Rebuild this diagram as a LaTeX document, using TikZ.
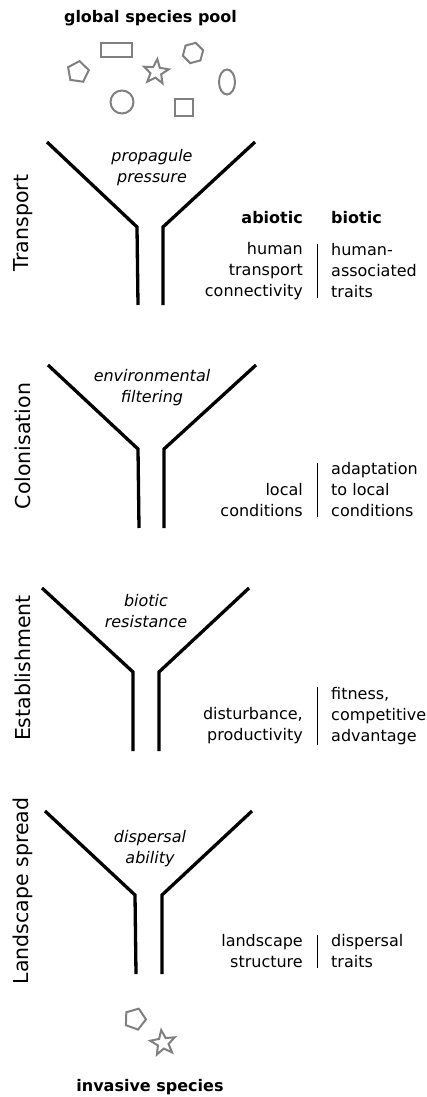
\documentclass[tikz,border=0pt]{standalone}
\usepackage{fontspec}
\setmainfont{DejaVu Sans}
\usepackage{tikz}
\usetikzlibrary{shapes.geometric}
\definecolor{speciesgray}{RGB}{128,128,128}

\begin{document}
\begin{tikzpicture}[x=1pt,y=-1pt,
    funnel/.style={line width=3.3pt,line join=miter},
    divider/.style={line width=1pt},
    species/.style={draw=speciesgray,line width=2pt,inner sep=0pt},
    title node/.style={font=\fontsize{16}{21}\selectfont\bfseries},
    stage node/.style={rotate=90,font=\fontsize{20.5}{24}\selectfont},
    filter node/.style={font=\fontsize{16}{21}\selectfont\itshape,align=center},
    abiotic node/.style={anchor=east,inner xsep=14pt,inner ysep=0pt,align=right,
      font=\fontsize{16}{21}\selectfont},
    biotic node/.style={anchor=west,inner xsep=14pt,inner ysep=0pt,align=left,
      font=\fontsize{16}{21}\selectfont}]
    \useasboundingbox (0,0) rectangle (427,1097);
    % species pool
    \node[title node] (pool) at (150.5,18) {global species pool};
    \node[species,rectangle,minimum width=31pt,minimum height=14pt] (rect_pool) at (116.5,50) {};
    \node[species,regular polygon,regular polygon sides=5,minimum size=22pt,rotate=-8] (pent_pool) at (78,72) {};
    \node[species,star,star points=5,star point ratio=2.3,minimum size=26pt,rotate=-6] (star_pool) at (156,72) {};
    \node[species,regular polygon,regular polygon sides=6,minimum size=21pt,rotate=15] (hex_pool) at (193,53) {};
    \node[species,ellipse,minimum width=16pt,minimum height=25pt] (ell_pool) at (227,82) {};
    \node[species,circle,minimum size=23pt] (circ_pool) at (122,102) {};
    \node[species,rectangle,minimum width=18pt,minimum height=17pt] (sq_pool) at (184,107.5) {};
    % funnels
    \draw[funnel] (47,142) -- (137,227) -- (138,305);
    \draw[funnel] (255,142) -- (163,227) -- (163,305);
    \draw[funnel] (48,365) -- (138,449) -- (139,528);
    \draw[funnel] (256,365) -- (164,449) -- (164,528);
    \draw[funnel] (42,588) -- (133,672) -- (133,751);
    \draw[funnel] (249,588) -- (159,672) -- (159,751);
    \draw[funnel] (45,811) -- (135,895) -- (136,974);
    \draw[funnel] (252,811) -- (162,895) -- (162,974);
    % stages
    \node[stage node] (stage_1) at (23,223) {Transport};
    \node[stage node] (stage_2) at (23,446) {Colonisation};
    \node[stage node] (stage_3) at (23,668) {Establishment};
    \node[stage node] (stage_4) at (23,891) {Landscape spread};
    \node[filter node] (filter_1) at (152,167.5) {propagule\\pressure};
    \node[filter node] (filter_2) at (152,388) {environmental\\filtering};
    \node[filter node] (filter_3) at (146,611.5) {biotic\\resistance};
    \node[filter node] (filter_4) at (150,849) {dispersal\\ability};
    % abiotic | biotic
    \node[abiotic node,font=\fontsize{16}{21}\selectfont\bfseries] (head_abio) at (317,218) {abiotic};
    \node[biotic node,font=\fontsize{16}{21}\selectfont\bfseries] (head_bio) at (317,218) {biotic};
    \node[abiotic node] (abio_1) at (317,271) {human\\transport\\connectivity};
    \node[biotic node] (bio_1) at (317,271) {human-\\associated\\traits};
    \node[abiotic node] (abio_2) at (317,500) {local\\conditions};
    \node[biotic node] (bio_2) at (317,490) {adaptation\\to local\\conditions};
    \node[abiotic node] (abio_3) at (317,726) {disturbance,\\productivity};
    \node[biotic node] (bio_3) at (317,716) {fitness,\\competitive\\advantage};
    \node[abiotic node] (abio_4) at (317,951.5) {landscape\\structure};
    \node[biotic node] (bio_4) at (317,951.5) {dispersal\\traits};
    \draw[divider] (bio_1.north west) -- (bio_1.south west);
    \draw[divider] (bio_2.north west) -- (bio_2.south west);
    \draw[divider] (bio_3.north west) -- (bio_3.south west);
    \draw[divider] (bio_4.north west) -- (bio_4.south west);
    % invasive species
    \node[species,regular polygon,regular polygon sides=5,minimum size=22pt,rotate=-20] (pent_inv) at (135,1019) {};
    \node[species,star,star points=5,star point ratio=2.3,minimum size=26pt,rotate=8] (star_inv) at (163,1043) {};
    \node[title node] (invasive) at (150,1087) {invasive species};
\end{tikzpicture}
\end{document}
